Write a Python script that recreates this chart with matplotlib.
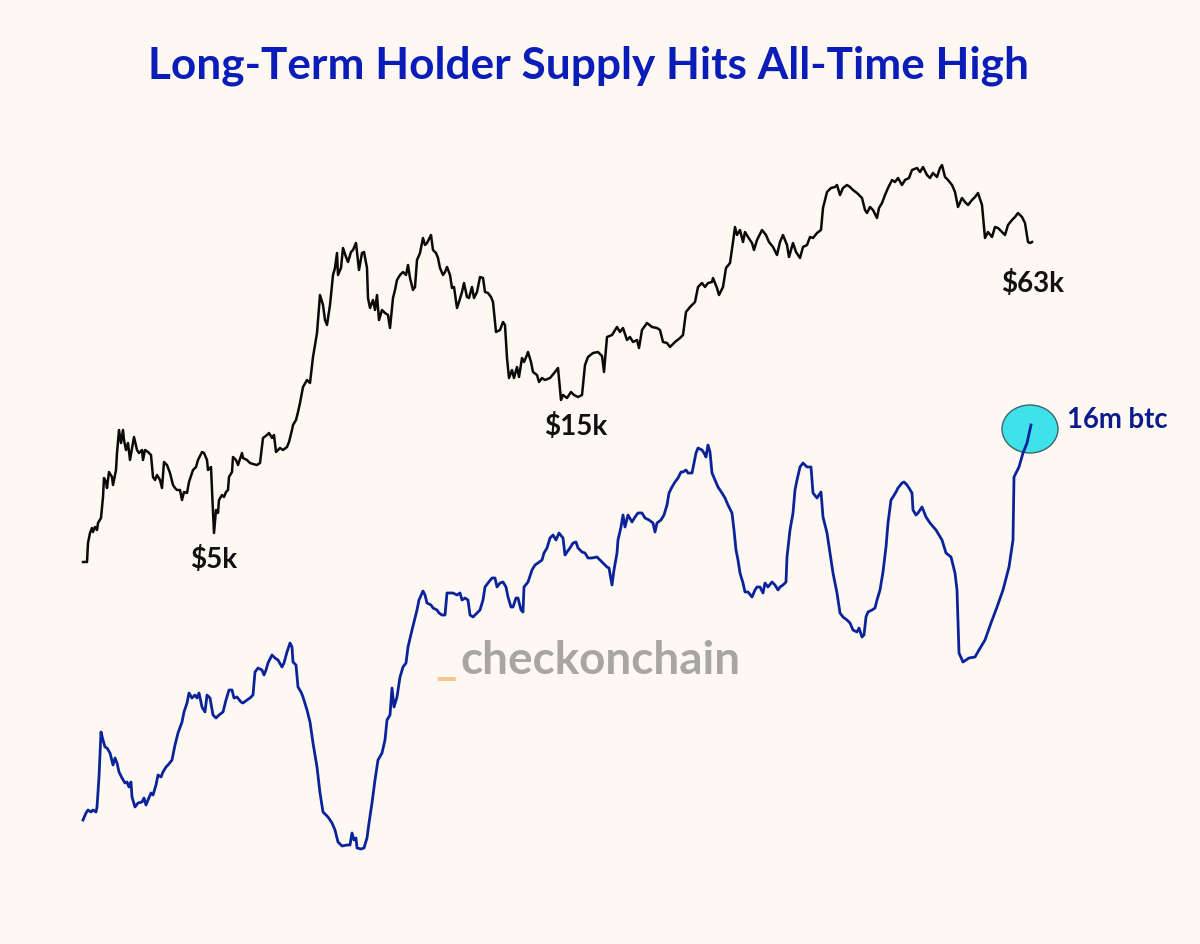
import matplotlib
matplotlib.use("Agg")
import matplotlib.pyplot as plt
from matplotlib.patches import Ellipse

# ---- data (time index, relative level) ----
price_t = [83, 87, 88, 90, 92, 93, 95, 97, 98, 101, 103, 104, 106, 107, 109, 112, 113, 116, 117, 119,
           121, 123, 124, 126, 128, 130, 133, 134, 137, 139, 142, 143, 145, 148, 151, 153, 155, 157, 160, 162,
           164, 167, 170, 173, 175, 177, 180, 182, 184, 187, 189, 192, 193, 196, 198, 202, 204, 207, 208, 211,
           212, 214, 216, 218, 219, 222, 224, 226, 228, 229, 232, 233, 236, 238, 242, 243, 247, 250, 253, 257,
           260, 263, 267, 269, 272, 274, 276, 280, 283, 287, 289, 292, 293, 296, 298,
           300, 303, 307, 310, 313, 317,
           320, 323, 325, 327, 330, 333, 335, 337, 338, 341, 343, 346, 348, 351, 353, 356, 357, 359, 362, 364,
           367, 368, 370, 373, 375, 377, 379, 382, 385, 388, 390, 393, 395, 397, 400, 403, 406, 408, 410, 413,
           415, 417, 420, 423, 425, 427, 431, 433, 436, 438, 440, 443, 445, 447, 450, 452, 454, 457, 459, 462,
           464, 467, 469, 472, 474, 477, 480, 483, 485, 488, 491, 493, 496, 500, 503, 505, 507, 509, 512, 514,
           517, 519, 522, 524, 527, 528, 531, 533, 537, 539, 542, 545, 550, 555, 558, 561, 563, 567, 571, 574,
           578,
           582, 585, 588, 593, 598, 602, 604, 607,
           612, 617, 620, 623, 627, 630, 633, 637, 639, 642, 647, 652, 657, 660, 663, 667, 670, 675, 680, 683,
           686, 690, 695, 698, 702, 705, 708, 712, 713, 717, 719, 723, 726, 730, 733, 735, 737, 740, 743, 745,
           748, 752, 754, 757, 762, 766, 769, 773, 777, 780, 783, 787, 789, 793, 796, 800, 803, 807, 810, 813,
           817, 821, 823, 827, 831, 835, 837, 840, 843, 847, 850, 853, 857, 862, 865, 867, 870, 873, 877, 879,
           882, 885, 888, 892, 895, 898, 902, 905, 909, 912, 917, 920, 923, 927, 930, 933, 937, 940, 942, 945,
           948, 952, 955, 958, 962, 965, 968, 972, 975, 978, 982, 985, 988, 992, 995, 998, 1002, 1005, 1008, 1012,
           1015, 1018, 1022, 1025, 1028, 1030, 1032]
price_v = [382, 382, 401, 411, 416, 412, 417, 414, 421, 426, 447, 466, 462, 456, 472, 467, 459, 474, 491, 514,
           501, 514, 504, 494, 501, 484, 501, 507, 494, 491, 494, 484, 494, 492, 489, 467, 464, 469, 464, 456,
           482, 479, 471, 459, 456, 454, 454, 444, 452, 451, 462, 471, 474, 477, 484, 492, 491, 484, 474, 477,
           454, 411, 434, 431, 444, 449, 447, 452, 454, 467, 472, 487, 484, 479, 491, 486, 484, 481, 480, 479,
           481, 506, 509, 511, 506, 509, 492, 496, 494, 497, 502, 514, 519, 524, 532,
           541, 557, 564, 561, 587, 611,
           649, 639, 624, 619, 639, 669, 676, 691, 669, 676, 696, 687, 682, 692, 694, 701, 692, 674, 691, 692,
           676, 646, 636, 644, 634, 649, 624, 634, 631, 629, 616, 646, 654, 664, 669, 672, 669, 679, 666, 654,
           657, 684, 691, 706, 699, 701, 709, 694, 691, 686, 676, 669, 672, 677, 669, 656, 657, 636, 642, 652,
           661, 647, 646, 657, 646, 652, 667, 666, 652, 651, 647, 642, 612, 614, 622, 619, 586, 566, 574, 566,
           577, 567, 586, 582, 589, 592, 582, 572, 569, 562, 566, 564, 566, 572, 576, 544, 549, 546, 552, 549,
           547,
           549, 579, 587, 591, 592, 588, 572, 607,
           609, 617, 612, 616, 604, 607, 602, 604, 596, 614, 621, 617, 616, 614, 602, 601, 597, 602, 606, 609,
           632, 637, 642, 657, 661, 657, 661, 662, 666, 656, 649, 657, 676, 681, 702, 717, 709, 714, 702, 712,
           707, 701, 694, 704, 714, 709, 702, 697, 689, 702, 709, 699, 687, 701, 692, 686, 697, 699, 707, 706,
           711, 714, 736, 752, 756, 757, 759, 749, 756, 759, 757, 754, 751, 746, 734, 731, 737, 734, 726, 736,
           741, 749, 756, 764, 762, 766, 759, 764, 766, 774, 776, 772, 777, 769, 766, 771, 767, 776, 779, 767,
           764, 759, 752, 737, 746, 742, 739, 744, 747, 751, 739, 706, 712, 707, 717, 716, 712, 709, 719, 724,
           727, 731, 727, 721, 702, 701, 702]

lth_t = [83, 86, 88, 91, 93, 96, 97, 99, 101, 103, 105, 107, 110, 113, 115, 117, 119, 122, 125, 127,
         129, 131, 132, 135, 138, 142, 144, 146, 148, 151, 153, 156, 158, 161, 163, 166, 168, 172, 175, 178,
         182, 184, 187, 189, 192, 195, 197, 199, 202, 205, 207, 210, 213, 216, 219, 223, 226, 229, 232, 234,
         237, 241, 243, 247, 250, 253, 255, 258, 262, 264, 266, 268, 272, 275, 278, 282, 284, 287, 290, 292,
         293, 296, 298, 301, 303, 307, 310, 313, 317, 320, 323, 328, 332, 335, 338, 342, 347, 350, 352, 354,
         356, 357, 361, 364, 367, 369, 372, 375, 378, 382, 385, 387, 390, 392, 394, 397, 400, 403, 406,
         408, 412, 414, 417, 419, 423, 425, 427, 431, 433, 437, 439, 442, 445, 447, 450, 453, 457, 460, 462,
         465, 468, 470, 473, 477, 480, 483, 485, 488, 492, 495, 497, 500, 503, 506, 508, 511, 513, 516, 518,
         521, 523, 524, 528, 532, 535, 538, 542, 544, 547, 550, 553, 556, 559, 563, 565, 567, 570, 573, 576,
         578, 582, 585, 588, 592, 597, 600, 603, 607, 609, 612, 614, 617, 618, 621, 623, 625, 628, 632, 635,
         638, 642, 645, 649, 653, 655, 657, 661, 664, 667, 669, 672, 675, 678, 681, 683, 686, 688, 692, 694,
         696, 698, 702, 704, 706, 708, 710, 712, 715, 718, 722, 725, 728, 732, 734, 736, 738, 740, 743, 745,
         748, 752, 755, 757, 760, 763, 765, 768, 772, 775, 778, 780, 783, 786, 787, 790, 793, 795, 797, 800,
         803, 807, 811, 813, 817, 821, 823, 827, 830, 833, 837, 840, 843, 847, 850, 853, 857, 859, 862, 864,
         866, 868, 872, 875, 877, 880, 883, 886, 888, 891, 893, 896, 898, 902, 904, 907, 909, 912, 913, 916,
         918, 922, 926, 930, 936, 942, 946, 951, 955, 957, 959, 963, 969, 975, 979, 985, 991, 997, 1003, 1009,
         1013, 1014, 1019, 1023, 1027, 1031]
lth_v = [124, 131, 134, 132, 134, 132, 137, 167, 212, 204, 197, 196, 191, 179, 186, 181, 172, 166, 161, 162,
         157, 162, 147, 137, 141, 142, 146, 139, 144, 151, 149, 159, 169, 167, 172, 177, 179, 184, 199, 211,
         222, 232, 241, 251, 246, 249, 246, 251, 237, 232, 249, 246, 229, 226, 229, 232, 244, 254, 254, 246,
         247, 242, 241, 244, 246, 249, 272, 276, 274, 269, 274, 281, 289, 286, 284, 277, 281, 292, 301, 297,
         282, 279, 257, 252, 247, 234, 222, 201, 177, 151, 132, 127, 121, 114, 102, 98, 99, 99, 111, 104,
         106, 96, 95, 96, 106, 121, 141, 164, 184, 191, 204, 224, 229, 256, 237, 247, 267, 277, 281,
         297, 314, 322, 334, 344, 353, 349, 341, 339, 336, 334, 331, 329, 329, 351, 351, 351, 349, 351, 344,
         346, 344, 329, 327, 331, 334, 344, 357, 361, 366, 366, 357, 361, 362, 357, 347, 337, 337, 346, 346,
         334, 332, 357, 362, 374, 379, 381, 384, 391, 396, 406, 409, 404, 411, 406, 389, 392, 396, 401, 402,
         396, 392, 391, 386, 386, 387, 384, 381, 377, 376, 359, 374, 391, 404, 417, 429, 417, 429, 422, 427,
         431, 431, 426, 424, 421, 412, 421, 424, 429, 439, 451, 457, 462, 466, 472, 472, 474, 471, 471, 481,
         491, 496, 494, 491, 487, 499, 492, 471, 464, 457, 451, 446, 439, 431, 414, 394, 384, 371, 361, 352,
         352, 347, 354, 357, 357, 351, 361, 357, 362, 359, 354, 357, 359, 362, 387, 414, 431, 454, 464, 477,
         481, 477, 477, 451, 446, 452, 427, 411, 391, 371, 351, 331, 327, 324, 321, 314, 312, 316, 307, 309,
         327, 332, 334, 336, 344, 354, 372, 397, 421, 444, 447, 452, 456, 461, 462, 459, 456, 451, 434, 429,
         431, 437, 427, 421, 414, 404, 391, 387, 371, 354, 291, 282, 286, 287, 294, 304, 321, 337, 354, 377,
         404, 467, 477, 491, 501, 519]

title = "Long-Term Holder Supply Hits All-Time High"
price_labels = ["$5k", "$15k", "$63k"]
price_label_t = [214, 576, 1033]
price_label_v = [376, 509, 652]
supply_label = "16m btc"

BG = "#FDF8F2"
TITLE_BLUE = "#0B1DB8"
LINE_BLUE = "#0A239A"

fig = plt.figure(figsize=(12, 9.44), dpi=100, facecolor=BG)
ax = fig.add_axes([0, 0, 1, 1])
ax.set_facecolor(BG)
ax.set_xlim(0, 1200)
ax.set_ylim(0, 944)
ax.axis("off")

ax.plot(price_t, price_v, color="#0A0A0A", lw=1.8, solid_joinstyle="round", zorder=3)
ax.plot(lth_t, lth_v, color=LINE_BLUE, lw=2.0, solid_joinstyle="round", zorder=4)

# highlight circle at the latest supply value
ax.add_patch(Ellipse((lth_t[-1] - 1, lth_v[-1] - 4), 56, 48, facecolor="#40E2EA",
                     edgecolor="#3A666C", lw=1.0, zorder=3))

fam = ["Lato", "DejaVu Sans"]
ax.text(588, 866, title, ha="center", va="baseline", fontsize=31.8, fontweight="bold",
        color=TITLE_BLUE, family=fam)

for lab, t, v in zip(price_labels, price_label_t, price_label_v):
    ax.text(t, v, lab, ha="center", va="baseline", fontsize=20, fontweight="bold",
            color="#111111", family=fam)

ax.text(1067, 516, supply_label, ha="left", va="baseline", fontsize=19.8, fontweight="bold",
        color="#0B1A8C", family=fam)

# watermark
ax.text(435, 270, "_", ha="left", va="baseline", fontsize=33, fontweight="bold",
        color="#F5C98E", family=fam)
ax.text(460, 270, "checkonchain", ha="left", va="baseline", fontsize=33, fontweight="bold",
        color="#A9A5A1", family=fam)

fig.savefig("out.png", dpi=100, facecolor=BG)
